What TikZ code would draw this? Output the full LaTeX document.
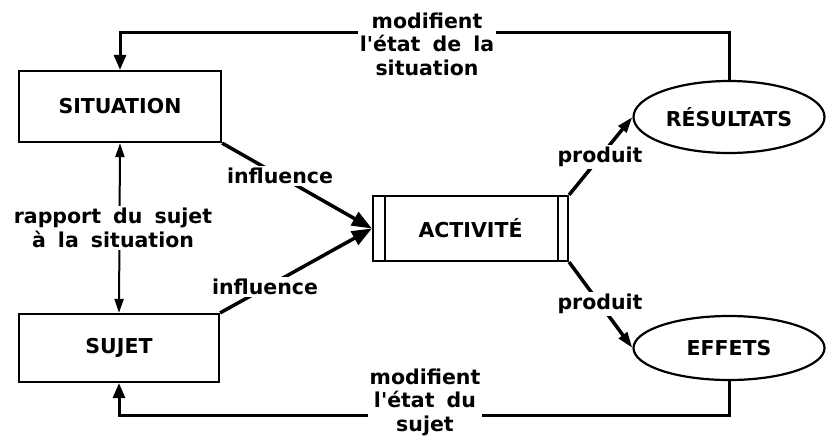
\documentclass[tikz,border=0pt]{standalone}
\usepackage{fontspec}
\setmainfont{DejaVu Sans}[WordSpace=1.7,Ligatures=TeXOff]
\usetikzlibrary{arrows.meta,shapes.geometric}
\begin{document}
\begin{tikzpicture}[x=1pt,y=-1pt,
  every node/.style={font=\fontsize{20.5}{23.5}\selectfont\bfseries},
  box/.style={draw,line width=2.2pt,inner sep=0pt},
  ell/.style={ellipse,draw,line width=2.2pt,inner sep=0pt},
  lab/.style={fill=white,align=center,inner sep=2pt},
  bigarrow/.style={line width=3.5pt,-{Triangle[length=20pt,width=15pt]}},
  prodarrow/.style={line width=3.5pt,-{Triangle[length=16pt,width=10pt]}},
  fbarrow/.style={line width=3pt,-{Triangle[length=15pt,width=12pt]}},
  thinarrow/.style={line width=2pt,{Triangle[length=14pt,width=9pt]}-{Triangle[length=14pt,width=9pt]}}]
\useasboundingbox (0,0) rectangle (826,436);

\node[box,minimum width=202pt,minimum height=71pt] (sit) at (120,106.5) {SITUATION};
\node[box,minimum width=200pt,minimum height=68pt] (suj) at (119,348) {SUJET};
\node[box,minimum width=195pt,minimum height=65pt] (act) at (470.5,228.5) {ACTIVITÉ};
\draw[line width=2.2pt] ([xshift=13pt]act.north west) -- ([xshift=13pt]act.south west);
\draw[line width=2.2pt] ([xshift=-11pt]act.north east) -- ([xshift=-11pt]act.south east);
\node[ell,minimum width=191pt,minimum height=72pt] (res) at (729,117) {RÉSULTATS};
\node[ell,minimum width=191pt,minimum height=64pt] (eff) at (729,348) {EFFETS};

\coordinate (top) at (0,33);
\coordinate (bot) at (0,415);

\draw[fbarrow] (res.north) -- (res.north |- top) -- (sit.north |- top) -- (sit.north);
\draw[fbarrow] (eff.south) -- (eff.south |- bot) -- (suj.south |- bot) -- (suj.south);
\draw[thinarrow] (sit.south) -- (suj.north);
\draw[bigarrow] (sit.south east) -- (act.west);
\draw[bigarrow] (suj.north east) -- (act.west);
\draw[prodarrow] (act.north east) -- (res.west);
\draw[prodarrow] (act.south east) -- (eff.west);

\node[lab] (l1) at (427,44) {modifient\\l'état de la\\situation};
\node[lab] (l2) at (425,402) {modifient\\l'état du\\sujet};
\node[lab] (l3) at (113,228) {rapport du sujet\\à la situation};
\node[lab] (l4) at (280,176) {influence};
\node[lab] (l5) at (265,287) {influence};
\node[lab] (l6) at (600,157) {produit};
\node[lab] (l7) at (600,304) {produit};
\end{tikzpicture}
\end{document}
